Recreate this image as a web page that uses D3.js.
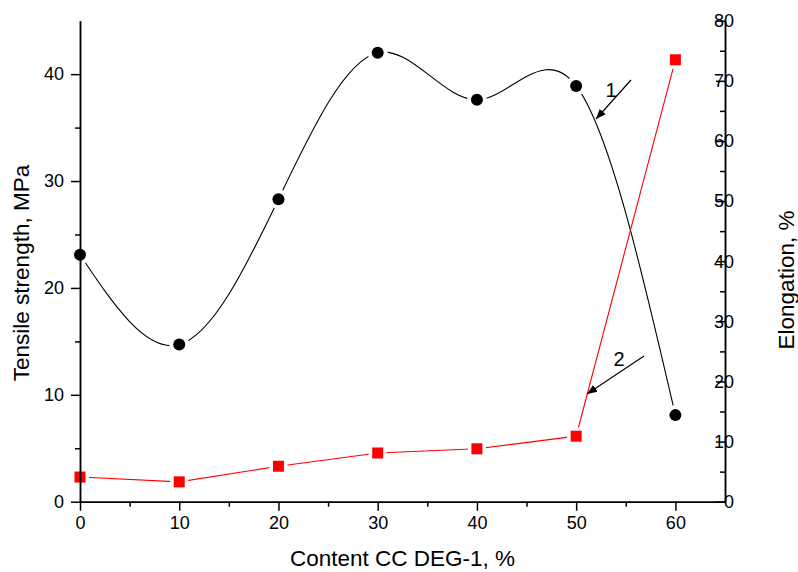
<!DOCTYPE html>
<html>
<head>
<meta charset="utf-8">
<script src="https://cdn.jsdelivr.net/npm/d3@7"></script>
<style>
  body { margin: 0; background: #fff; }
  svg text { font-family: "Liberation Sans", Arial, sans-serif; fill: #000; }
  .axis path, .axis line { stroke: #000; stroke-width: 1.5px; }
</style>
</head>
<body>
<div id="chart"></div>
<script>
// content of CC DEG-1, %
var content = [0, 10, 20, 30, 40, 50, 60];
// curve 1 - tensile strength, MPa (left axis)
var strength = [23.1, 14.7, 28.3, 42.0, 37.6, 38.9, 8.1];
// curve 2 - elongation, % (right axis)
var elongation = [4.1, 3.3, 5.9, 8.1, 8.8, 10.9, 73.5];

var xTicks = [0, 10, 20, 30, 40, 50, 60];
var leftTicks = [0, 10, 20, 30, 40];
var rightTicks = [0, 10, 20, 30, 40, 50, 60, 70, 80];

var width = 798, height = 572;
var margin = {top: 20.7, right: 73, bottom: 70.3, left: 80};
var tickFont = '18px', titleFont = '22.5px';

var svg = d3.select('#chart').append('svg')
  .attr('width', width)
  .attr('height', height);

var x = d3.scaleLinear().domain([0, 65]).range([margin.left, width - margin.right]);
var yL = d3.scaleLinear().domain([0, 45]).range([height - margin.bottom, margin.top]);
var yR = d3.scaleLinear().domain([0, 80]).range([height - margin.bottom, margin.top]);

var bottom = height - margin.bottom;

// ---------- lines ----------
var line1 = d3.line()
  .x(function(d, i) { return x(content[i]); })
  .y(function(d) { return yL(d); })
  .curve(d3.curveNatural);

var line2 = d3.line()
  .x(function(d, i) { return x(content[i]); })
  .y(function(d) { return yR(d); });

svg.append('path')
  .attr('d', line1(strength))
  .attr('fill', 'none')
  .attr('stroke', '#000')
  .attr('stroke-width', 1.1);

svg.append('path')
  .attr('d', line2(elongation))
  .attr('fill', 'none')
  .attr('stroke', '#ff0000')
  .attr('stroke-width', 1.1);

// white halos make the little gap between line and marker
svg.selectAll('circle.halo')
  .data(strength).enter().append('circle')
  .attr('cx', function(d, i) { return x(content[i]); })
  .attr('cy', function(d) { return yL(d); })
  .attr('r', 10)
  .attr('fill', '#fff');

svg.selectAll('rect.halo')
  .data(elongation).enter().append('rect')
  .attr('x', function(d, i) { return x(content[i]) - 9; })
  .attr('y', function(d) { return yR(d) - 9; })
  .attr('width', 18)
  .attr('height', 18)
  .attr('fill', '#fff');

svg.selectAll('circle.dot')
  .data(strength).enter().append('circle')
  .attr('cx', function(d, i) { return x(content[i]); })
  .attr('cy', function(d) { return yL(d); })
  .attr('r', 6)
  .attr('fill', '#000');

svg.selectAll('rect.sq')
  .data(elongation).enter().append('rect')
  .attr('x', function(d, i) { return x(content[i]) - 5.5; })
  .attr('y', function(d) { return yR(d) - 5.5; })
  .attr('width', 11)
  .attr('height', 11)
  .attr('fill', '#ff0000');

// ---------- axes ----------
function minors(scale, step) {
  var dom = scale.domain(), arr = [];
  for (var v = dom[0] + step / 2; v < dom[1]; v += step) arr.push(v);
  return arr;
}

var gx = svg.append('g').attr('class', 'axis')
  .attr('transform', 'translate(0,' + bottom + ')');
gx.call(d3.axisBottom(x).tickValues(minors(x, 10)).tickSize(5).tickFormat('').tickSizeOuter(0));
gx.append('g').call(d3.axisBottom(x).tickValues(xTicks).tickSize(9).tickSizeOuter(0).tickPadding(6));

var gl = svg.append('g').attr('class', 'axis')
  .attr('transform', 'translate(' + margin.left + ',0)');
gl.call(d3.axisLeft(yL).tickValues(minors(yL, 10)).tickSize(5).tickFormat('').tickSizeOuter(0));
gl.append('g').call(d3.axisLeft(yL).tickValues(leftTicks).tickSize(9).tickSizeOuter(0).tickPadding(7));

// right axis: ticks point inward, labels outside
var gr = svg.append('g').attr('class', 'axis')
  .attr('transform', 'translate(' + (width - margin.right) + ',0)');
gr.call(d3.axisLeft(yR).tickValues(minors(yR, 10)).tickSize(5).tickFormat('').tickSizeOuter(0));
gr.append('g').call(d3.axisLeft(yR).tickValues(rightTicks).tickSize(9).tickSizeOuter(0).tickFormat(''));
gr.selectAll('.rlab')
  .data(rightTicks).enter().append('text')
  .attr('x', 9)
  .attr('y', function(d) { return yR(d); })
  .attr('dy', '0.35em')
  .style('font-size', tickFont)
  .text(function(d) { return d; });

svg.selectAll('.axis .tick text').style('font-size', tickFont);

// ---------- titles ----------
svg.append('text')
  .attr('x', (margin.left + width - margin.right) / 2)
  .attr('y', 566)
  .attr('text-anchor', 'middle')
  .style('font-size', titleFont)
  .text('Content CC DEG-1, %');

svg.append('text')
  .attr('transform', 'translate(29,273) rotate(-90)')
  .attr('text-anchor', 'middle')
  .style('font-size', titleFont)
  .text('Tensile strength, MPa');

svg.append('text')
  .attr('transform', 'translate(794,280) rotate(-90)')
  .attr('text-anchor', 'middle')
  .style('font-size', titleFont)
  .text('Elongation, %');

// ---------- curve labels with arrows ----------
var defs = svg.append('defs');
defs.append('marker')
  .attr('id', 'arrow')
  .attr('viewBox', '0 0 10 10')
  .attr('refX', 10).attr('refY', 5)
  .attr('markerWidth', 10).attr('markerHeight', 10)
  .attr('markerUnits', 'userSpaceOnUse')
  .attr('orient', 'auto')
  .append('path')
  .attr('d', 'M0,1 L10,5 L0,9 Z')
  .attr('fill', '#000');

var notes = [
  {label: '1', x1: 631, y1: 80, x2: 596, y2: 119, tx: 611, ty: 97},
  {label: '2', x1: 644, y1: 356, x2: 587, y2: 394, tx: 619, ty: 366}
];

notes.forEach(function(n) {
  svg.append('line')
    .attr('x1', n.x1).attr('y1', n.y1)
    .attr('x2', n.x2).attr('y2', n.y2)
    .attr('stroke', '#000')
    .attr('stroke-width', 1.2)
    .attr('marker-end', 'url(#arrow)');
  svg.append('text')
    .attr('x', n.tx).attr('y', n.ty)
    .attr('text-anchor', 'middle')
    .style('font-size', '20px')
    .text(n.label);
});
</script>
</body>
</html>
